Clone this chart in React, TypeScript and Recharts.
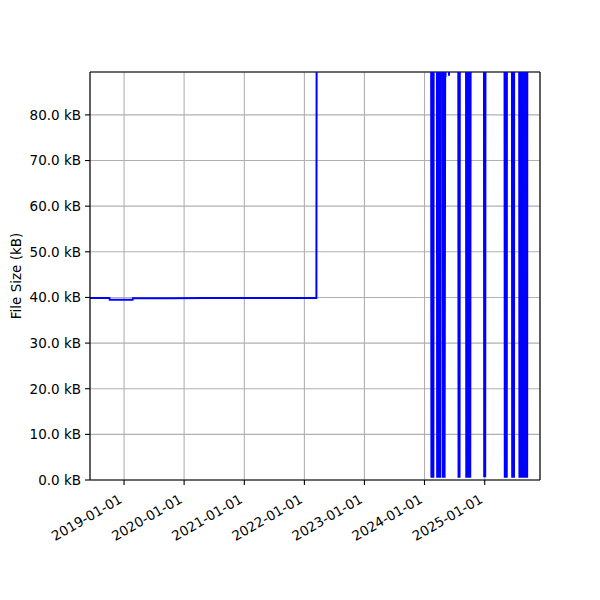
import { LineChart, Line, XAxis, YAxis, CartesianGrid, ReferenceLine } from 'recharts';

// Dates des relevés et taille du fichier (kB). 120 = hors cadre (au-dessus de l'axe).
const dates = [
  '2018-06-08', '2018-10-04', '2018-10-06', '2019-02-22', '2019-02-24', '2019-10-15',
  '2020-05-05', '2022-03-15', '2022-03-17',
  // 2024 – oscillations
  '2024-02-10', '2024-02-12', '2024-02-15', '2024-02-18', '2024-02-21', '2024-02-24', '2024-02-26',
  '2024-03-16', '2024-03-18', '2024-03-21', '2024-03-24', '2024-03-27', '2024-03-30', '2024-04-02',
  '2024-04-05', '2024-04-08',
  '2024-04-19', '2024-04-21', '2024-04-24', '2024-04-27', '2024-04-30', '2024-05-02',
  '2024-05-07', '2024-05-08', '2024-05-09', '2024-05-28', '2024-05-29', '2024-05-30',
  '2024-07-24', '2024-07-26', '2024-07-29', '2024-08-01', '2024-08-03',
  '2024-09-09', '2024-09-11', '2024-09-14', '2024-09-17', '2024-09-20', '2024-09-23', '2024-09-26',
  '2024-09-29', '2024-10-02', '2024-10-05', '2024-10-08',
  '2024-12-27', '2024-12-29', '2025-01-01', '2025-01-04', '2025-01-06',
  // 2025
  '2025-05-01', '2025-05-03', '2025-05-06', '2025-05-09', '2025-05-12', '2025-05-15', '2025-05-16',
  '2025-06-15', '2025-06-17', '2025-06-20', '2025-06-23', '2025-06-26', '2025-06-28', '2025-06-29',
  '2025-07-29', '2025-07-31', '2025-08-03', '2025-08-06', '2025-08-09', '2025-08-12', '2025-08-15',
  '2025-08-18', '2025-08-21', '2025-08-24', '2025-08-27', '2025-08-30', '2025-09-02', '2025-09-05',
  '2025-09-08', '2025-09-11', '2025-09-14', '2025-09-16', '2025-09-17',
  '2025-12-03',
];

const sizes = [
  39.9, 39.9, 39.5, 39.5, 39.8, 39.8,
  39.9, 39.9, 120,
  120, 0.5, 120, 0.6, 120, 0.5, 120,
  120, 0.5, 120, 0.5, 120, 0.6, 120,
  0.5, 120,
  120, 0.5, 120, 0.5, 120, 0.5,
  120, 88.3, 120, 120, 88.6, 120,
  120, 0.5, 120, 0.5, 120,
  120, 0.5, 120, 0.5, 120, 0.5, 120,
  0.5, 120, 0.5, 120,
  120, 0.6, 120, 0.6, 120,
  120, 0.5, 120, 0.5, 120, 0.5, 120,
  120, 0.5, 120, 0.5, 120, 0.5, 120,
  120, 0.5, 120, 0.5, 120, 0.5, 120,
  0.5, 120, 0.5, 120, 0.5, 120, 0.5,
  120, 0.5, 120, 0.5, 120,
  120,
];

const xTickLabels = [
  '2019-01-01', '2020-01-01', '2021-01-01', '2022-01-01', '2023-01-01', '2024-01-01', '2025-01-01',
];
const yTicks = [0, 10, 20, 30, 40, 50, 60, 70, 80];

const X_START = Date.parse('2018-06-08');
const X_END = Date.parse('2025-12-03');
const Y_MAX = 89.4;

const FONT = '"DejaVu Sans", sans-serif';

const data = dates.map((d, i) => ({ t: Date.parse(d), kb: sizes[i] }));
const xTicks = xTickLabels.map((d) => Date.parse(d));

function fmtDate(t: number): string {
  return new Date(t).toISOString().slice(0, 10);
}

function XTick({ x, y, payload }: any) {
  const ax = x - 1;
  const ay = y + 17;
  return (
    <text
      x={ax}
      y={ay}
      transform={`rotate(-30 ${ax} ${ay})`}
      textAnchor="end"
      fill="#000"
      fontSize={13.5}
      fontFamily={FONT}
    >
      {fmtDate(payload.value)}
    </text>
  );
}

export default function App() {
  return (
    <div style={{ position: 'absolute', top: 0, left: 0, width: 600, height: 600, background: '#fff' }}>
      <LineChart
        width={600}
        height={600}
        data={data}
        margin={{ top: 72, right: 60, bottom: 60, left: 0 }}
        style={{ fontFamily: FONT }}
      >
        <CartesianGrid stroke="#b0b0b0" strokeWidth={1.1} />
        <XAxis
          dataKey="t"
          type="number"
          domain={[X_START, X_END]}
          ticks={xTicks}
          allowDataOverflow
          height={60}
          tickSize={5}
          tickMargin={0}
          axisLine={{ stroke: '#000', strokeWidth: 1.1 }}
          tickLine={{ stroke: '#000', strokeWidth: 1.1 }}
          tick={<XTick />}
          interval={0}
        />
        <YAxis
          type="number"
          domain={[0, Y_MAX]}
          ticks={yTicks}
          allowDataOverflow
          width={90}
          tickSize={5}
          tickMargin={4}
          axisLine={{ stroke: '#000', strokeWidth: 1.1 }}
          tickLine={{ stroke: '#000', strokeWidth: 1.1 }}
          tick={{ fill: '#000', fontSize: 13.5, fontFamily: FONT }}
          tickFormatter={(v: number) => `${v.toFixed(1)} kB`}
          interval={0}
          label={{
            value: 'File Size (kB)',
            angle: -90,
            position: 'insideLeft',
            offset: 16,
            fill: '#000',
            fontSize: 13.5,
            style: { textAnchor: 'middle', fontFamily: FONT },
          }}
        />
        <ReferenceLine y={Y_MAX} stroke="#000" strokeWidth={1.1} />
        <ReferenceLine x={X_END} stroke="#000" strokeWidth={1.1} />
        <Line
          type="linear"
          dataKey="kb"
          stroke="#0000ff"
          strokeWidth={2}
          dot={false}
          activeDot={false}
          isAnimationActive={false}
        />
      </LineChart>
    </div>
  );
}
